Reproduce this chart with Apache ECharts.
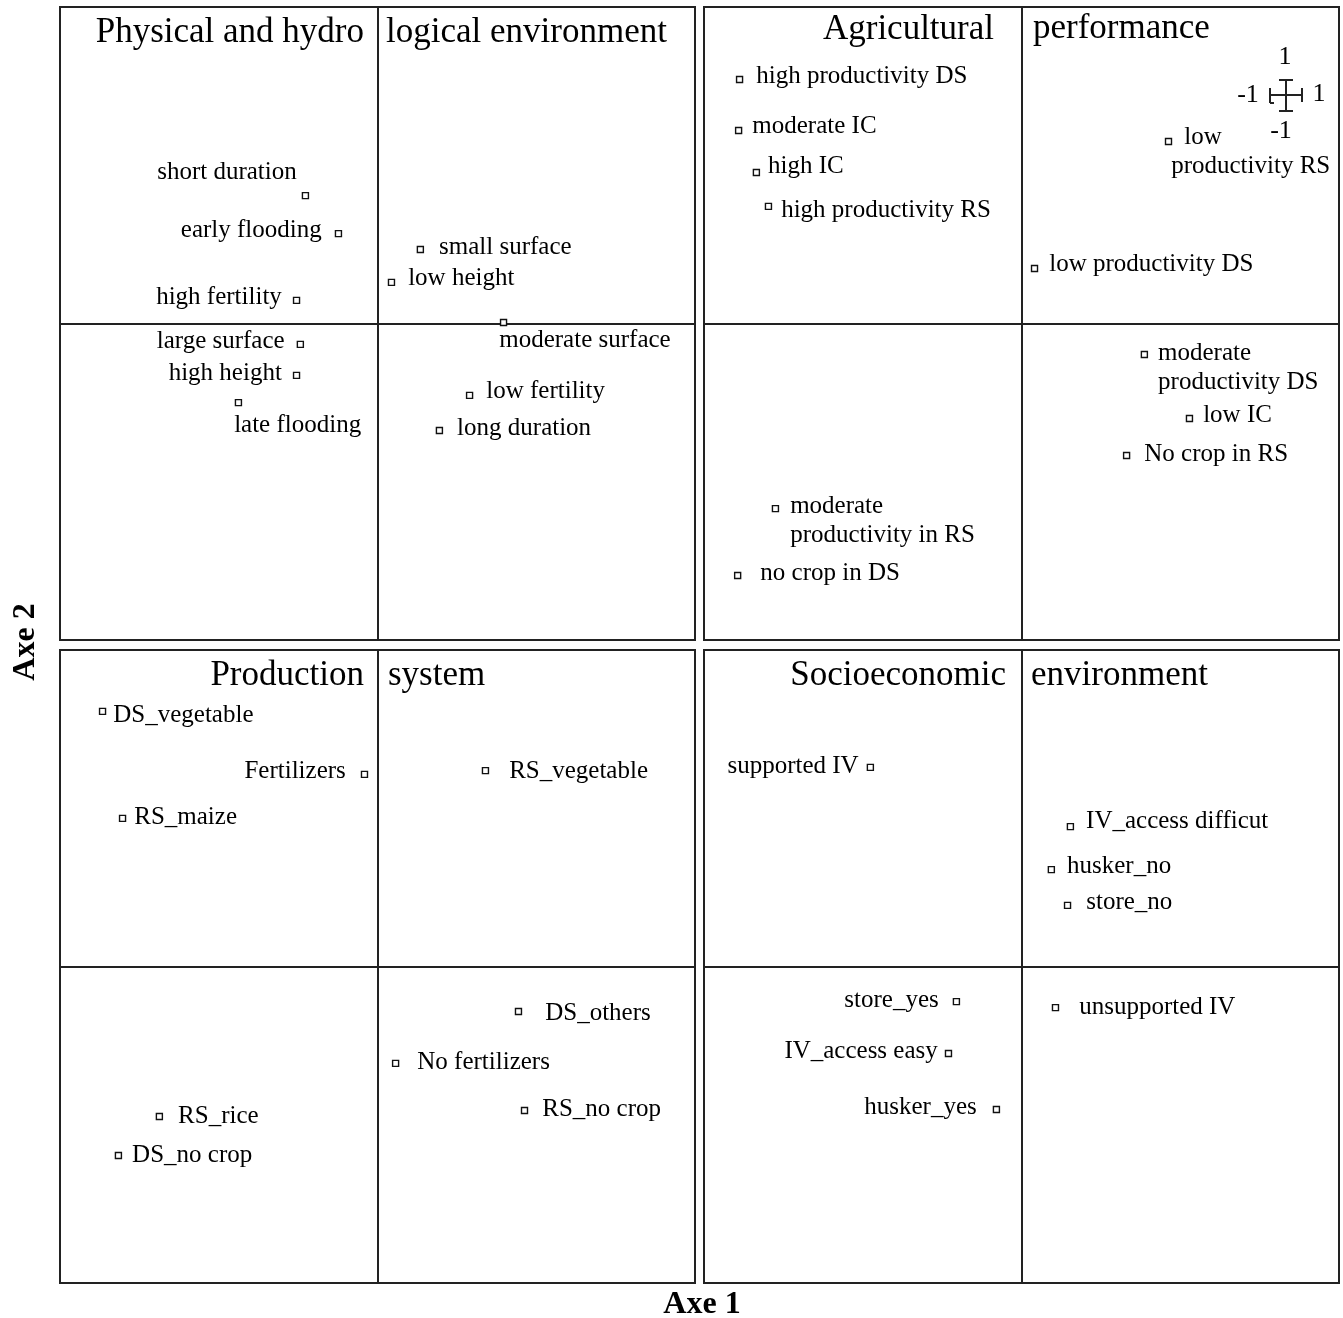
<!DOCTYPE html>
<html>
<head>
<meta charset="utf-8">
<script src="https://cdn.jsdelivr.net/npm/echarts@6/dist/echarts.min.js"></script>
<style>
html,body{margin:0;padding:0;background:#fff;}
#chart{width:1343px;height:1318px;}
</style>
</head>
<body>
<div id="chart"></div>
<script>
// ---------- DATA ----------
const physNames = ['short duration','early flooding','high fertility','small surface','low height','moderate surface','large surface','high height','late flooding','low fertility','long duration'];
const physX = [-0.227,-0.123,-0.255,0.135,0.044,0.397,-0.243,-0.255,-0.438,0.290,0.195];
const physY = [0.404,0.284,0.073,0.234,0.130,0.003,-0.066,-0.164,-0.250,-0.227,-0.338];

const agriNames = ['high productivity DS','moderate IC','high IC','high productivity RS','low\nproductivity RS','low productivity DS','moderate\nproductivity DS','low IC','No crop in RS','moderate\nproductivity in RS','no crop in DS'];
const agriX = [-0.888,-0.891,-0.835,-0.797,0.463,0.041,0.387,0.529,0.331,-0.775,-0.894];
const agriY = [0.771,0.610,0.477,0.370,0.575,0.174,-0.098,-0.300,-0.417,-0.585,-0.796];

const prodNames = ['DS_vegetable','Fertilizers','RS_maize','RS_vegetable','DS_others','No fertilizers','RS_no crop','RS_rice','DS_no crop'];
const prodX = [-0.866,-0.041,-0.803,0.340,0.444,0.057,0.463,-0.687,-0.816];
const prodY = [0.806,0.607,0.468,0.619,-0.142,-0.306,-0.455,-0.474,-0.597];

const socioNames = ['supported IV','IV_access difficut','husker_no','store_no','store_yes','IV_access easy','husker_yes','unsupported IV'];
const socioX = [-0.476,0.154,0.094,0.145,-0.205,-0.230,-0.079,0.107];
const socioY = [0.629,0.442,0.306,0.193,-0.111,-0.275,-0.452,-0.130];

const panelTitlesLeft = ['Physical and hydro','Agricultural','Production','Socioeconomic'];
const panelTitlesRight = ['logical environment','performance','system','environment'];
const axisTitles = ['Axe 1','Axe 2'];
const scaleLabels = ['1','-1','1','-1'];

// ---------- LABEL PLACEMENT (style) ----------
const labelPlacement = {
  'short duration':['left',5,-23],
  'early flooding':['left',13,-3],
  'high fertility':['left',11,-3],
  'small surface':['right',15,-2],
  'low height':['right',13,-4],
  'moderate surface':['right',-8,18],
  'large surface':['left',12,-3],
  'high height':['left',11,-2],
  'late flooding':['right',-8,23],
  'low fertility':['right',13,-4],
  'long duration':['right',14,-2],
  'high productivity DS':['right',13,-3],
  'moderate IC':['right',10,-4],
  'high IC':['right',8,-6],
  'high productivity RS':['right',9,4],
  'low\nproductivity RS':['right',-1,10],
  'low productivity DS':['right',11,-4],
  'moderate\nproductivity DS':['right',10,13],
  'low IC':['right',10,-3],
  'No crop in RS':['right',14,-1],
  'moderate\nproductivity in RS':['right',11,12],
  'no crop in DS':['right',19,-2],
  'DS_vegetable':['right',7,4],
  'Fertilizers':['left',15,-3],
  'RS_maize':['right',8,-1],
  'RS_vegetable':['right',20,1],
  'DS_others':['right',23,2],
  'No fertilizers':['right',18,-1],
  'RS_no crop':['right',14,-1],
  'RS_rice':['right',15,0],
  'DS_no crop':['right',10,0],
  'supported IV':['left',8,-1],
  'IV_access difficut':['right',12,-5],
  'husker_no':['right',12,-3],
  'store_no':['right',15,-3],
  'store_yes':['left',14,-1],
  'IV_access easy':['left',7,-2],
  'husker_yes':['left',16,-2],
  'unsupported IV':['right',20,0]
};

const FONT = '"Liberation Serif", "Times New Roman", serif';
const INK = '#000';

const panels = [
  {names:physNames, xs:physX, ys:physY, left:60, top:7},
  {names:agriNames, xs:agriX, ys:agriY, left:704, top:7},
  {names:prodNames, xs:prodX, ys:prodY, left:60, top:650},
  {names:socioNames, xs:socioX, ys:socioY, left:704, top:650}
];
const PW = 635, PH = 633;

const grids = [], xAxes = [], yAxes = [], series = [], titles = [];
panels.forEach((p, i) => {
  grids.push({left:p.left, top:p.top, width:PW, height:PH, show:true, borderColor:'#222', borderWidth:2, backgroundColor:'transparent'});
  const ax = {type:'value', gridIndex:i, min:-1, max:1, axisLabel:{show:false}, axisTick:{show:false}, splitLine:{show:false},
              axisLine:{show:true, onZero:true, lineStyle:{color:'#222', width:2}}};
  xAxes.push(Object.assign({}, ax));
  yAxes.push(Object.assign({}, ax));
  const data = p.names.map((n, k) => {
    const pl = labelPlacement[n] || ['right',10,0];
    return {name:n, value:[p.xs[k], p.ys[k]],
      label:{position:pl[0], distance:pl[1], offset:[0, pl[2]]}};
  });
  series.push({
    type:'scatter', xAxisIndex:i, yAxisIndex:i, data:data, symbol:'rect', symbolSize:6,
    itemStyle:{color:'#fff', borderColor:'#111', borderWidth:1.4, opacity:1},
    silent:true,
    label:{show:true, fontFamily:FONT, fontSize:25, color:INK, lineHeight:29,
      formatter: (prm) => prm.name === 'low\nproductivity RS' ? '{i|low}\nproductivity RS' : prm.name,
      rich:{i:{padding:[0,0,0,13], fontFamily:FONT, fontSize:25, color:INK, lineHeight:29}}},
    emphasis:{disabled:true}
  });
});

const titleStyle = {fontFamily:FONT, fontSize:35, fontWeight:'normal', color:INK, lineHeight:40};
const tl = [
  {text:panelTitlesLeft[0], right:1343-364, top:13},
  {text:panelTitlesRight[0], left:386, top:13},
  {text:panelTitlesLeft[1], right:1343-994, top:10},
  {text:panelTitlesRight[1], left:1033, top:9},
  {text:panelTitlesLeft[2], right:1343-364, top:656},
  {text:panelTitlesRight[2], left:388, top:656},
  {text:panelTitlesLeft[3], right:1343-1006, top:656},
  {text:panelTitlesRight[3], left:1031, top:656}
];
tl.forEach(t => titles.push(Object.assign({padding:0, textStyle:titleStyle}, t)));

const lineStyle = {stroke:'#222', lineWidth:2};
const scaleFont = {fontFamily:FONT, fontSize:26, fill:INK, textAlign:'center', textVerticalAlign:'middle'};
const graphic = [
  {type:'text', x:702, y:1305, style:{text:axisTitles[0], fontFamily:FONT, fontSize:32, fontWeight:'bold', fill:INK, textAlign:'center', textVerticalAlign:'middle'}},
  {type:'text', x:26, y:642, rotation:Math.PI/2, style:{text:axisTitles[1], fontFamily:FONT, fontSize:32, fontWeight:'bold', fill:INK, textAlign:'center', textVerticalAlign:'middle'}},
  // scale indicator
  {type:'line', shape:{x1:1270,y1:95,x2:1302,y2:95}, style:lineStyle},
  {type:'line', shape:{x1:1270,y1:88,x2:1270,y2:103}, style:lineStyle},
  {type:'line', shape:{x1:1270,y1:103,x2:1274,y2:103}, style:lineStyle},
  {type:'line', shape:{x1:1302,y1:88,x2:1302,y2:102}, style:lineStyle},
  {type:'line', shape:{x1:1286,y1:80,x2:1286,y2:111}, style:lineStyle},
  {type:'line', shape:{x1:1279,y1:80,x2:1293,y2:80}, style:lineStyle},
  {type:'line', shape:{x1:1279,y1:111,x2:1293,y2:111}, style:lineStyle},
  {type:'text', x:1285, y:57, style:Object.assign({text:scaleLabels[0]}, scaleFont)},
  {type:'text', x:1248, y:95, style:Object.assign({text:scaleLabels[1]}, scaleFont)},
  {type:'text', x:1319, y:94, style:Object.assign({text:scaleLabels[2]}, scaleFont)},
  {type:'text', x:1281, y:131, style:Object.assign({text:scaleLabels[3]}, scaleFont)}
];

const chart = echarts.init(document.getElementById('chart'), null, {renderer:'canvas'});
chart.setOption({
  backgroundColor:'#fff',
  animation:false,
  title:titles,
  grid:grids,
  xAxis:xAxes,
  yAxis:yAxes,
  series:series,
  graphic:graphic
});
</script>
</body>
</html>
